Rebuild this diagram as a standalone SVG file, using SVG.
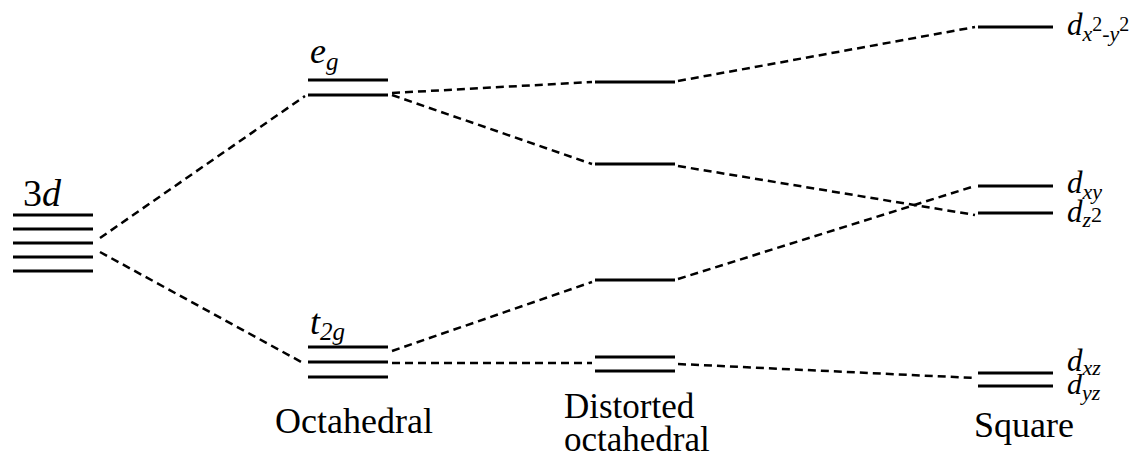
<svg xmlns="http://www.w3.org/2000/svg" width="1139" height="456" viewBox="0 0 1139 456">
<style>
.lvl{stroke:#000;stroke-width:3;fill:none}
.dash{stroke:#000;stroke-width:2.5;stroke-dasharray:8 5;fill:none}
</style>
<rect width="1139" height="456" fill="#fff"/>
<g id="connectors">
<line class="dash" x1="100" y1="238" x2="305" y2="96"/>
<line class="dash" x1="100" y1="252" x2="305" y2="364"/>
<line class="dash" x1="392" y1="93" x2="592" y2="82"/>
<line class="dash" x1="678" y1="81" x2="975" y2="27"/>
<line class="dash" x1="392" y1="95" x2="592" y2="164"/>
<line class="dash" x1="678" y1="166" x2="975" y2="215"/>
<line class="dash" x1="392" y1="351" x2="592" y2="282"/>
<line class="dash" x1="678" y1="279" x2="975" y2="186"/>
<line class="dash" x1="392" y1="363" x2="592" y2="363"/>
<line class="dash" x1="678" y1="364" x2="975" y2="378"/>
</g>
<g id="n3d">
<line class="lvl" x1="13" y1="215" x2="93" y2="215"/>
<line class="lvl" x1="13" y1="229" x2="93" y2="229"/>
<line class="lvl" x1="13" y1="243" x2="93" y2="243"/>
<line class="lvl" x1="13" y1="257" x2="93" y2="257"/>
<line class="lvl" x1="13" y1="271" x2="93" y2="271"/>
<text font-family="Liberation Serif" font-size="38" x="23" y="206">3<tspan font-style="italic">d</tspan></text>
</g>
<g id="eg">
<line class="lvl" x1="308" y1="80" x2="388" y2="80"/>
<line class="lvl" x1="308" y1="95" x2="388" y2="95"/>
<text font-family="Liberation Serif" font-size="36" font-style="italic" x="310" y="63">e<tspan font-size="25" dy="7">g</tspan></text>
</g>
<g id="t2g">
<line class="lvl" x1="308" y1="347" x2="388" y2="347"/>
<line class="lvl" x1="308" y1="362" x2="388" y2="362"/>
<line class="lvl" x1="308" y1="377" x2="388" y2="377"/>
<text font-family="Liberation Serif" font-size="36" font-style="italic" x="310" y="334">t<tspan font-size="25" dy="6">2g</tspan></text>
</g>
<g id="octahedral-label"><text font-family="Liberation Serif" font-size="36" x="275" y="433">Octahedral</text></g>
<g id="distorted">
<line class="lvl" x1="595" y1="82" x2="675" y2="82"/>
<line class="lvl" x1="595" y1="164" x2="675" y2="164"/>
<line class="lvl" x1="595" y1="280" x2="675" y2="280"/>
<line class="lvl" x1="595" y1="357" x2="675" y2="357"/>
<line class="lvl" x1="595" y1="371" x2="675" y2="371"/>
<text font-family="Liberation Serif" font-size="35" x="564" y="418">Distorted</text>
<text font-family="Liberation Serif" font-size="35" x="564" y="451">octahedral</text>
</g>
<g id="square">
<line class="lvl" x1="978" y1="27" x2="1053" y2="27"/>
<line class="lvl" x1="978" y1="186" x2="1053" y2="186"/>
<line class="lvl" x1="978" y1="213" x2="1053" y2="213"/>
<line class="lvl" x1="978" y1="373" x2="1053" y2="373"/>
<line class="lvl" x1="978" y1="386" x2="1053" y2="386"/>
<text font-family="Liberation Serif" font-size="36" x="974" y="437">Square</text>
</g>
<g id="labels-d">
<text font-family="Liberation Serif" font-style="italic" font-size="31" x="1067" y="35">d<tspan font-size="22" dy="6">x</tspan><tspan font-size="20" dy="-10" font-style="normal">2</tspan><tspan font-size="22" dy="10">-y</tspan><tspan font-size="20" dy="-10" font-style="normal">2</tspan></text>
<text font-family="Liberation Serif" font-style="italic" font-size="31" x="1067" y="193">d<tspan font-size="22" dy="6">xy</tspan></text>
<text font-family="Liberation Serif" font-style="italic" font-size="31" x="1067" y="222">d<tspan font-size="22" dy="5">z</tspan><tspan font-size="22" dy="-5" font-style="normal">2</tspan></text>
<text font-family="Liberation Serif" font-style="italic" font-size="31" x="1067" y="371">d<tspan font-size="22" dy="4">xz</tspan></text>
<text font-family="Liberation Serif" font-style="italic" font-size="30" x="1067" y="394">d<tspan font-size="22" dy="6">yz</tspan></text>
</g>
</svg>
